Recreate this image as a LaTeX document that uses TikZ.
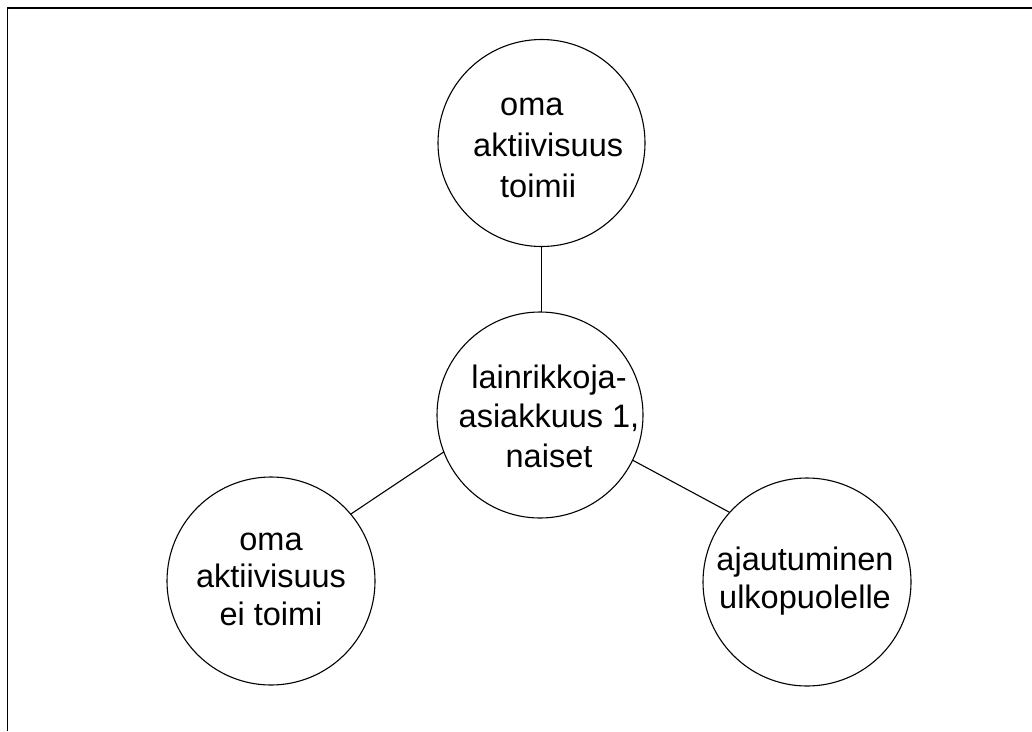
\documentclass[tikz,border=0pt]{standalone}
\usepackage{fontspec}
\setmainfont{Liberation Sans}
\begin{document}
\begin{tikzpicture}[x=1pt,y=-1pt,
  bubble/.style={draw, circle, line width=1.1pt, inner sep=0pt, outer sep=0pt},
  txt/.style={inner sep=0pt},
  link/.style={line width=1.1pt},
  frame/.style={line width=1.6pt}]
\useasboundingbox (0,0) rectangle (1032,731);
% open page frame (left and top edges only)
\draw[frame] (7.5,731) -- (7.5,8) -- (1032,8);

% circles
\node[bubble, minimum size=207pt] (top)   at (541.5,143) {};
\node[bubble, minimum size=206pt] (mid)   at (540,415) {};
\node[bubble, minimum size=208pt] (left)  at (271,581) {};
\node[bubble, minimum size=208pt] (right) at (807,582) {};

% texts (anchored on the baseline of the last line)
\node[txt, align=left, anchor=base west, font=\fontsize{32.5}{41}\selectfont] (toptxt) at (473,197)
  {\hspace*{27pt}oma\\aktiivisuus\\\hspace*{27pt}toimii};
\node[txt, align=center, anchor=base, font=\fontsize{32.5}{39.5}\selectfont] (midtxt) at (549,467)
  {lainrikkoja-\\asiakkuus 1,\\naiset};
\node[txt, align=center, anchor=base, font=\fontsize{32.5}{37.5}\selectfont] (lefttxt) at (271,625)
  {oma\\aktiivisuus\\ei toimi};
\node[txt, align=center, anchor=base, font=\fontsize{32.5}{38}\selectfont] (righttxt) at (805,608)
  {ajautuminen\\ulkopuolelle};

% connectors
\draw[link] (top.south) -- (top.south |- mid.north);
\draw[link] (mid.201.4) -- (left.40.4);
\draw[link] (mid.-26.3) -- (right.138.1);
\end{tikzpicture}
\end{document}
